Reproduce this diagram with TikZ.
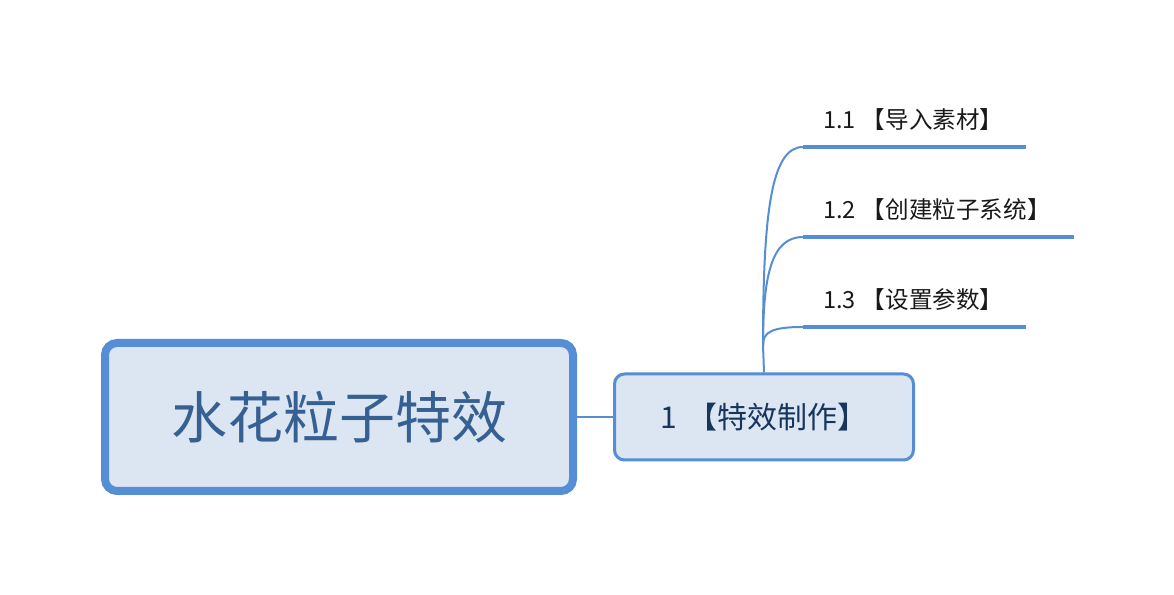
\documentclass[tikz,border=0pt]{standalone}
\usepackage{fontspec}
\setmainfont{Noto Sans CJK SC}
\usetikzlibrary{positioning}
\definecolor{mapblue}{HTML}{558ED5}
\definecolor{mapfill}{HTML}{DCE6F2}
\definecolor{roottext}{HTML}{376092}
\definecolor{topictext}{HTML}{17365D}
\tikzset{root/.style={draw=mapblue,fill=mapfill,line width=8pt,rounded corners=12pt,
    minimum width=468pt,minimum height=148pt,text=roottext,font=\fontsize{56pt}{60pt}\selectfont}}
\tikzset{topic/.style={draw=mapblue,fill=mapfill,line width=3pt,rounded corners=10pt,
    minimum width=299pt,minimum height=86pt,text=topictext,font=\fontsize{30pt}{34pt}\selectfont}}
\tikzset{subtopic/.style={anchor=south west,inner xsep=20pt,inner ysep=18pt,text depth=0pt,
    align=left,text=black!90,font=\fontsize{23.6pt}{26pt}\selectfont}}
\tikzset{branch/.style={draw=mapblue,line width=2pt}}
\tikzset{underline/.style={draw=mapblue,line width=4.5pt}}

\begin{document}
\begin{tikzpicture}[x=1pt,y=1pt]
        \useasboundingbox (0,0) rectangle (1174,594);

        \node[root] (root) at (339,177) {水花粒子特效};
        \node[topic] (fx) at (764,177) {1\hspace{10pt}【特效制作】\hspace{4pt}};

        \node[subtopic,text width=183pt] (imp) at (803,447) {1.1\hspace{6pt}【导入素材】};
        \node[subtopic,text width=231pt] (sys) at (803,357) {1.2\hspace{6pt}【创建粒子系统】};
        \node[subtopic,text width=183pt] (par) at (803,267) {1.3\hspace{6pt}【设置参数】};
        \coordinate (fork) at (763,249);

        \draw[branch] (root.east) -- (fx.west);
        \draw[branch] (fx.north) -- (fork);
        \draw[branch] (fork) .. controls (763,385) and (772,447) .. (imp.south west);
        \draw[branch] (fork) .. controls (763,320) and (772,357) .. (sys.south west);
        \draw[branch] (fork) .. controls (763,262) and (772,267) .. (par.south west);

        \draw[underline] (imp.south west) -- (imp.south east);
        \draw[underline] (sys.south west) -- (sys.south east);
        \draw[underline] (par.south west) -- (par.south east);
    \end{tikzpicture}
\end{document}
